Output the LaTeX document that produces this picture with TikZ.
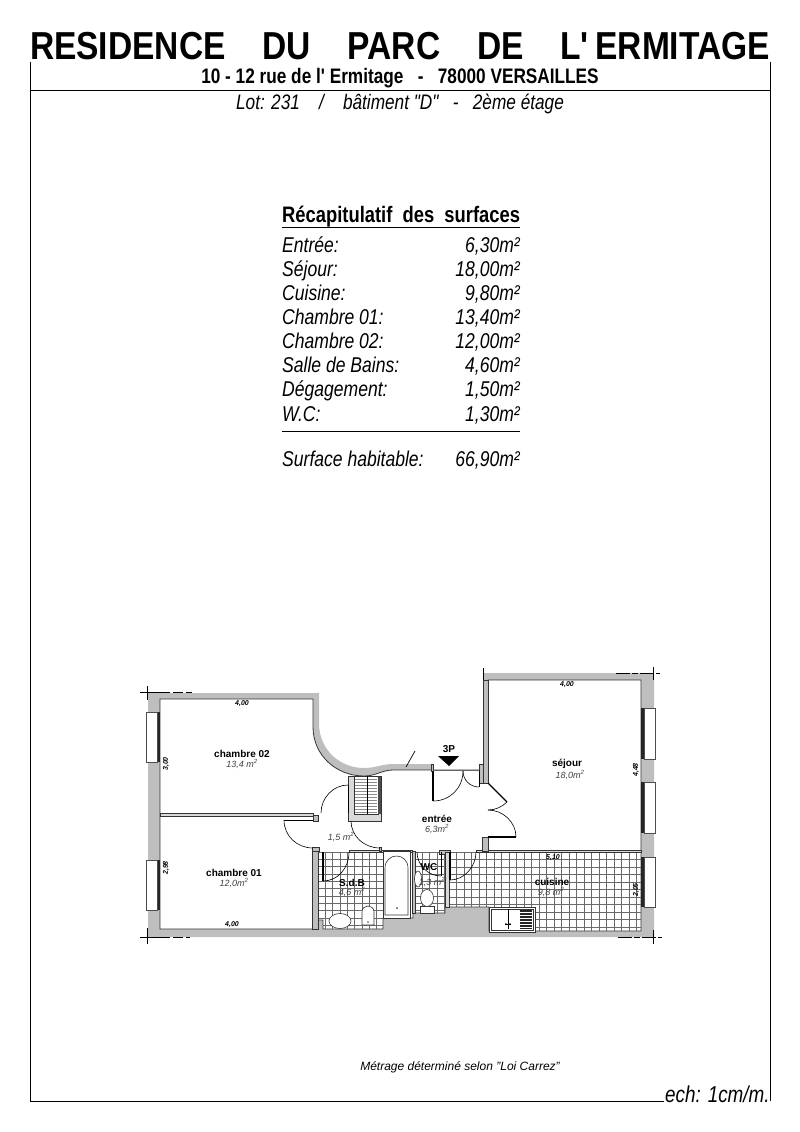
\documentclass[tikz,border=0pt]{standalone}
\usepackage{fontspec}
\setmainfont{Liberation Sans}
\newfontfamily\narrowfont[FakeStretch=0.82]{Liberation Sans}
\newfontfamily\titlefont[FakeStretch=0.86]{Liberation Sans}
\definecolor{wallgray}{RGB}{190,190,190}
\definecolor{tilegray}{RGB}{105,105,105}
\tikzset{   title/.style = {inner sep=0pt, font=\titlefont\bfseries\fontsize{39}{39}\selectfont},
            subtitle/.style = {inner sep=0pt, font=\narrowfont\bfseries\fontsize{21}{21}\selectfont},
            lotline/.style = {inner sep=0pt, font=\narrowfont\itshape\fontsize{21}{21}\selectfont},
            tablehead/.style = {inner sep=0pt, anchor=base west, font=\narrowfont\bfseries\fontsize{22.4}{22.4}\selectfont},
            tablerow/.style = {inner sep=0pt, font=\narrowfont\itshape\fontsize{21.4}{21.4}\selectfont},
            room/.style = {inner sep=0pt, font=\bfseries\fontsize{10}{10}\selectfont},
            area/.style = {inner sep=0pt, text=black!75, font=\itshape\fontsize{9}{9}\selectfont},
            dimen/.style = {inner sep=0pt, font=\bfseries\itshape\fontsize{7}{7}\selectfont},
            wall/.style = {fill=wallgray, draw=black!80, line width=0.7pt},
            leaf/.style = {draw=black, line width=0.7pt},
            swing/.style = {draw=black, line width=0.6pt},
            tile/.style = {draw=tilegray, line width=0.4pt},
            frame/.style = {draw=black, line width=0.9pt},
            glass/.style = {fill=white, draw=black!70, line width=0.6pt},
            sill/.style = {fill=black!85, draw=none},
            tick/.style = {draw=black, line width=0.6pt},
            fixture/.style = {fill=white, draw=black!80, line width=0.6pt}}

\begin{document}
\begin{tikzpicture}[x=1pt, y=-1pt]
    \useasboundingbox (0,0) rectangle (800,1132);

    \node[title, text width=740pt, align=justify](name)at(400,46){RESIDENCE\hfill DU\hfill PARC\hfill DE\hfill L'\,ERMITAGE};
    \node[subtitle](address)at(400,78){10 - 12 rue de l' Ermitage\ \ \ -\ \ \ 78000 VERSAILLES};
    \node[lotline](lot)at(400,104){Lot: 231\ \ \ \ /\ \ \ \ bâtiment "D"\ \ \ -\ \ \ 2ème étage};

    \draw[frame](30,90)--(770,90);
    \draw[frame](30,62)--(30,1101)--(664,1101);
    \draw[frame](770,62)--(770,1101);

    \node[tablehead](recap)at(282,222){Récapitulatif\ \ des\ \ surfaces};
    \draw[frame](282,227)--(520,227);
    \foreach \y/\room/\size/\id in {{252/Entrée:/6,30/a}, {276/Séjour:/18,00/b}, {300/Cuisine:/9,80/c}, {324/Chambre 01:/13,40/d},
        {348/Chambre 02:/12,00/e}, {372/Salle de Bains:/4,60/f}, {396/Dégagement:/1,50/g}, {421/W.C:/1,30/h}, {466/Surface habitable:/66,90/i}}{
        \node[tablerow, anchor=base west](lab\id)at(282,\y){\room};
        \node[tablerow, anchor=base east](val\id)at(520,\y){\size m²};
    }
    \draw[frame](282,431)--(520,431);

    % outer walls
    \fill[wallgray](148,693)--(319,693)--(319,723)..controls(319,750)and(340,768)..(364,768)
        ..controls(376,768)and(382,764)..(393,764)--(431,764)--(431,771)--(483,771)--(483,673)
        --(654,673)--(654,937)--(148,937)--cycle;
    \filldraw[fill=white, draw=black!80, line width=0.8pt](160,699)--(313,699)--(313,727)
        ..controls(313,755)and(336,776)..(364,776)..controls(376,776)and(382,770)..(393,770)
        --(431,770)--(479,770)--(483,770)--(483,783)--(488,783)--(488,680)--(641,680)--(641,931)
        --(535,931)--(489,931)--(489,907)--(445,907)--(445,913)--(413,913)--(413,918)--(383,918)
        --(383,929)--(323,929)--(323,920)--(318,920)--(318,929)--(160,929)--cycle;

    % tiled floors
    \begin{scope}
        \clip(318,852)--(383,852)--(383,929)--(323,929)--(323,920)--(318,920)--cycle;
        \foreach \k in {0,...,9}{\draw[tile](318+7.3*\k,852)--(318+7.3*\k,930);}
        \foreach \k in {0,...,11}{\draw[tile](318,852+7.3*\k)--(384,852+7.3*\k);}
    \end{scope}
    \begin{scope}
        \clip(415,852)--(445,852)--(445,913)--(415,913)--cycle;
        \foreach \k in {0,...,4}{\draw[tile](415+7.3*\k,852)--(415+7.3*\k,914);}
        \foreach \k in {0,...,9}{\draw[tile](415,852+7.3*\k)--(446,852+7.3*\k);}
    \end{scope}
    \begin{scope}
        \clip(449,852)--(641,852)--(641,931)--(489,931)--(489,907)--(449,907)--cycle;
        \foreach \k in {0,...,26}{\draw[tile](449+7.5*\k,852)--(449+7.5*\k,932);}
        \foreach \k in {0,...,11}{\draw[tile](449,852+7.5*\k)--(642,852+7.5*\k);}
    \end{scope}

    % inner walls
    \filldraw[wall, fill=black!15](160,813)rectangle(313,816);
    \filldraw[wall](313,815)rectangle(318,821);
    \filldraw[wall](312,848)rectangle(318,929);
    \filldraw[wall](312,847)rectangle(319,851);
    \filldraw[wall, fill=black!15](348,776)rectangle(381,821);
    \filldraw[fill=white, draw=black!80, line width=0.6pt](354,776)rectangle(378,814);
    \foreach \k in {0,...,11}{\draw[draw=black!45, line width=0.4pt](355,779+3*\k)--(377,779+3*\k);}
    \draw[leaf](367,776)--(367,814);
    \fill[black!70](378,777)rectangle(381,814);
    \filldraw[wall, fill=black!15](349,850)rectangle(412,852);
    \filldraw[wall](379,847)rectangle(381,851);
    \filldraw[wall, fill=black!25](412,851)rectangle(415,913);
    \filldraw[wall](439,850)rectangle(450,854);
    \filldraw[wall, fill=black!15](445,852)rectangle(449,907);
    \filldraw[wall, fill=black!15](476,850)rectangle(641,852);
    \filldraw[wall](482,837)rectangle(488,851);
    \filldraw[wall](483,680)rectangle(488,783);
    \filldraw[wall](479,764)rectangle(483,783);
    \filldraw[wall](431,764)rectangle(433,771);
    \draw[leaf, draw=black!60](433,770.5)--(479,770.5);
    \draw[leaf](406,767)--(415,751);

    % doors
    \draw[leaf](348,785)--(348,813);
    \draw[swing](348,785)..controls(333,785)and(321,798)..(321,813);
    \draw[leaf](284,820)--(313,820);
    \draw[swing](284,820)..controls(284,836)and(297,848)..(313,848);
    \draw[swing](351,821)..controls(351,836)and(364,848)..(380,848);
    \draw[leaf, line width=1.2pt](323,852)--(323,881);
    \draw[swing](349,852)..controls(349,868)and(338,881)..(323,881);
    \draw[leaf](441,852)--(441,876);
    \draw[swing](417,852)..controls(417,865)and(428,876)..(441,876);
    \draw[leaf, line width=1.2pt](450,852)--(450,880);
    \draw[swing](476,852)..controls(476,867)and(464,880)..(450,880);
    \draw[leaf, line width=1.2pt](433,771)--(433,801);
    \draw[swing](463,771)..controls(463,788)and(450,801)..(433,801);
    \draw[leaf](479,771)--(479,787);
    \draw[swing](463,771)..controls(463,780)and(470,787)..(479,787);
    \draw[leaf, line width=1.2pt](488,783)--(507,802);
    \draw[swing](507,802)..controls(502,807)and(495,810)..(488,810);
    \draw[leaf, line width=1.2pt](488,837)--(516,837);
    \draw[swing](488,810)..controls(503,810)and(516,822)..(516,837);

    % windows
    \foreach \ya/\yb in {712/762, 860/910}{
        \fill[sill](157,\ya)rectangle(160,\yb);
        \filldraw[glass](146,\ya)rectangle(157,\yb);
    }
    \foreach \ya/\yb in {708/759, 782/833, 857/907}{
        \fill[sill](641,\ya)rectangle(644,\yb);
        \filldraw[glass](644,\ya)rectangle(655,\yb);
    }

    % fixtures
    \filldraw[fixture](383,851)rectangle(410,918);
    \filldraw[fixture](385,915)--(385,868)..controls(385,860)and(391,856)..(396.5,856)
        ..controls(402,856)and(408,860)..(408,868)--(408,915)--cycle;
    \fill[black!70](397,908)circle(1pt);
    \begin{scope}
        \clip(325,905)rectangle(355,929);
        \filldraw[fixture](340,921)ellipse[x radius=11, y radius=7.5];
    \end{scope}
    \filldraw[fixture](362,925)--(362,912)..controls(362,908)and(365,906)..(368,906)
        ..controls(371,906)and(374,908)..(374,912)--(374,925)--cycle;
    \fill[black!70](368,922)circle(0.9pt);
    \filldraw[fixture](418,879)ellipse[x radius=3.5, y radius=8];
    \filldraw[fixture](420,906)rectangle(434,913);
    \filldraw[fixture](427,898)ellipse[x radius=6.5, y radius=8.5];
    \filldraw[wall, fill=white](489,907)rectangle(535,932);
    \draw[leaf, draw=black!80](491,909)rectangle(533,930);
    \fill[black!85](520,910)rectangle(532,929);
    \foreach \k in {0,...,5}{\draw[white, line width=0.4pt](520,912+3*\k)--(532,912+3*\k);}
    \draw[leaf](508,909)--(508,929);
    \draw[leaf](505,924)--(511,924);
    \fill(506,924)circle(1pt);
    \fill(510,924)circle(1pt);

    % entry mark
    \fill[black](438,756)--(459,756)--(449,766)--cycle;
    \node[room](entry)at(449,749){3P};

    % axis ticks
    \draw[tick, dash pattern=on 30pt off 3pt on 10pt off 3pt](140,692.5)--(192,692.5);
    \draw[tick](147.5,686)--(147.5,700);
    \draw[tick, dash pattern=on 30pt off 3pt on 10pt off 3pt](140,937)--(190,937);
    \draw[tick](147.5,928)--(147.5,944);
    \draw[tick](483,668)--(483,680);
    \draw[tick, dash pattern=on 14pt off 2pt on 6pt off 2pt](616,673)--(660,673);
    \draw[tick](653,667)--(653,680);
    \draw[tick, dash pattern=on 14pt off 2pt on 6pt off 2pt](618,937)--(662,937);
    \draw[tick](653,930)--(653,944);

    % labels
    \node[dimen](top02)at(242,703.5){4,00};
    \node[dimen, rotate=90](left02)at(166,764){3,00};
    \node[room](ch02)at(242,754){chambre 02};
    \node[area](ar02)at(242,764){13,4 m\textsuperscript{2}};
    \node[room](ch01)at(234,873){chambre 01};
    \node[area](ar01)at(234,883){12,0m\textsuperscript{2}};
    \node[dimen, rotate=90](left01)at(166,868){2,98};
    \node[dimen](bot01)at(232,925){4,00};
    \node[area](arde)at(341,837){1,5 m\textsuperscript{2}};
    \node[room](sdb)at(352,883){S.d.B};
    \node[area](arsd)at(352,892){4,6 m\textsuperscript{2}};
    \node[room](entree)at(437,819){entrée};
    \node[area](aren)at(437,829){6,3m\textsuperscript{2}};
    \node[room](wc)at(429,867){WC};
    \node[area](arwc)at(432,882){1,3 m\textsuperscript{2}};
    \node[room](sejour)at(567,764){séjour};
    \node[area](arse)at(570,775){18,0m\textsuperscript{2}};
    \node[dimen](topse)at(567,685){4,00};
    \node[dimen, rotate=90](rightse)at(636,770){4,48};
    \node[dimen](topcu)at(553,858){5,10};
    \node[room](cuisine)at(552,882){cuisine};
    \node[area](arcu)at(551,892){9,8 m\textsuperscript{2}};
    \node[dimen, rotate=90](rightcu)at(636,890){2,05};

    \node[inner sep=0pt, font=\itshape\fontsize{12}{12}\selectfont](metrage)at(460,1067){Métrage déterminé selon "Loi Carrez"};
    \node[inner sep=0pt, anchor=west, font=\narrowfont\itshape\fontsize{23}{23}\selectfont](scale)at(665,1094){ech: 1cm/m.};
\end{tikzpicture}
\end{document}
